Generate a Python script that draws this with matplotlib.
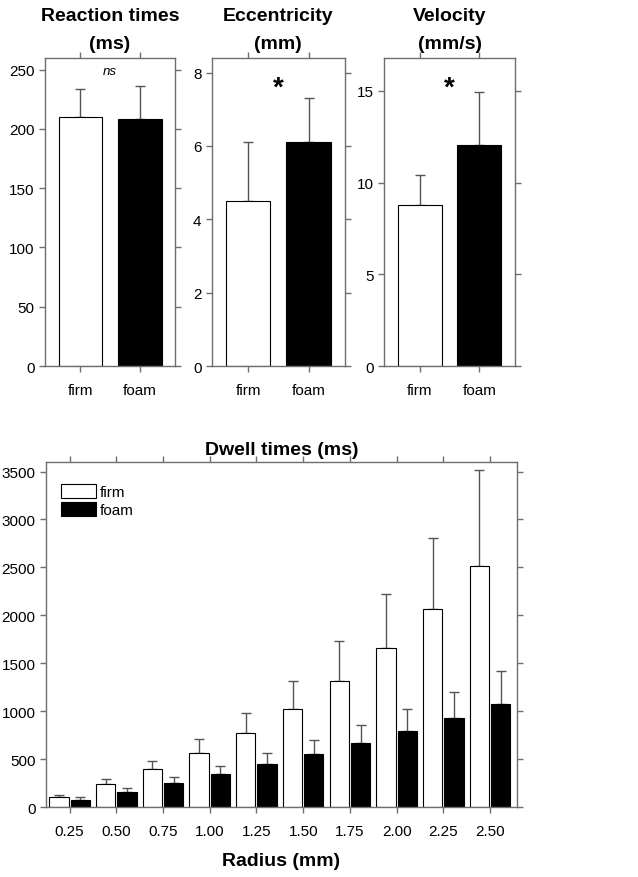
import matplotlib
matplotlib.use("Agg")
from matplotlib import pyplot as plt

plt.rcParams['font.family'] = ['Liberation Sans', 'DejaVu Sans']

conds = ['firm', 'foam']

rt_mean = [210, 208.5]
rt_err = [24, 27.5]

ecc_mean = [4.5, 6.1]
ecc_err = [1.6, 1.2]

vel_mean = [8.8, 12.05]
vel_err = [1.6, 2.9]

radius = [0.25, 0.50, 0.75, 1.00, 1.25, 1.50, 1.75, 2.00, 2.25, 2.50]
radius_labels = ['0.25', '0.50', '0.75', '1.00', '1.25', '1.50', '1.75', '2.00', '2.25', '2.50']
dwell_firm = [108, 240, 394, 568, 777, 1024, 1317, 1661, 2062, 2518]
dwell_firm_err = [17, 49, 87, 139, 205, 296, 411, 565, 749, 993]
dwell_foam = [77, 160, 251, 345, 446, 554, 669, 794, 930, 1080]
dwell_foam_err = [27, 42, 62, 83, 115, 146, 184, 227, 275, 341]

spine_col = '#6e6e6e'
err_col = '#555555'
tick_fs = 11
title_fs = 14


def style_axes(ax):
    for s in ax.spines.values():
        s.set_color(spine_col)
        s.set_linewidth(1.0)
    ax.tick_params(direction='out', length=4, width=1.0, color=spine_col,
                   labelsize=tick_fs, top=True, right=True,
                   labeltop=False, labelright=False)
    ax.tick_params(axis='y', pad=3.5)
    ax.tick_params(axis='x', pad=8)


fig = plt.figure(figsize=(6.38, 8.78), dpi=100)

top_panels = [
    ([0.0705, 0.582, 0.204, 0.351], rt_mean, rt_err, 260, [0, 50, 100, 150, 200, 250],
     'Reaction times\n(ms)'),
    ([0.332, 0.582, 0.2085, 0.351], ecc_mean, ecc_err, 8.4, [0, 2, 4, 6, 8],
     'Eccentricity\n(mm)'),
    ([0.602, 0.582, 0.2055, 0.351], vel_mean, vel_err, 16.8, [0, 5, 10, 15],
     'Velocity\n(mm/s)'),
]

xs = [1, 2]
axes = []
for rect, means, errs, ymax, yt, title in top_panels:
    ax = fig.add_axes(rect)
    ax.bar(xs, means, width=0.74, color=['white', 'black'], edgecolor='black',
           linewidth=0.8, zorder=2)
    ax.errorbar(xs, means, yerr=[[0, 0], errs], fmt='none', ecolor=err_col,
                elinewidth=1.0, capsize=3.5, capthick=1.0, zorder=1)
    ax.set_xlim(0.4, 2.6)
    ax.set_ylim(0, ymax)
    ax.set_xticks(xs)
    ax.set_xticklabels(conds)
    ax.set_yticks(yt)
    ax.set_title(title, fontsize=title_fs, fontweight='bold', pad=7, linespacing=1.85)
    style_axes(ax)
    axes.append(ax)

axes[0].text(1.5, 249, 'ns', ha='center', va='center', style='italic', fontsize=9.5)
axes[1].text(1.5, 7.6, '*', ha='center', va='center', fontsize=20, fontweight='bold')
axes[2].text(1.5, 15.2, '*', ha='center', va='center', fontsize=20, fontweight='bold')

# dwell times
ax = fig.add_axes([0.0721, 0.0797, 0.738, 0.393])
off = 0.057
w = 0.103
ax.bar([r - off for r in radius], dwell_firm, width=w, color='white',
       edgecolor='black', linewidth=0.8, label='firm', zorder=2)
ax.bar([r + off for r in radius], dwell_foam, width=w, color='black',
       edgecolor='black', linewidth=0.8, label='foam', zorder=2)
ax.errorbar([r - off for r in radius], dwell_firm,
            yerr=[[0] * len(radius), dwell_firm_err], fmt='none', ecolor=err_col,
            elinewidth=1.0, capsize=3.5, capthick=1.0, zorder=1)
ax.errorbar([r + off for r in radius], dwell_foam,
            yerr=[[0] * len(radius), dwell_foam_err], fmt='none', ecolor=err_col,
            elinewidth=1.0, capsize=3.5, capthick=1.0, zorder=1)
ax.set_xlim(0.124, 2.643)
ax.set_ylim(0, 3600)
ax.set_xticks(radius)
ax.set_xticklabels(radius_labels)
ax.set_yticks(range(0, 3501, 500))
ax.set_title('Dwell times (ms)', fontsize=title_fs, fontweight='bold', pad=6)
ax.set_xlabel('Radius (mm)', fontsize=14, fontweight='bold', labelpad=10)
style_axes(ax)
leg = ax.legend(loc='upper left', frameon=False, fontsize=11, handlelength=2.3,
                handleheight=1.0, handletextpad=0.25, labelspacing=0.2,
                borderaxespad=0.6, bbox_to_anchor=(0.0, 0.98))

fig.savefig('out.png', dpi=100)
